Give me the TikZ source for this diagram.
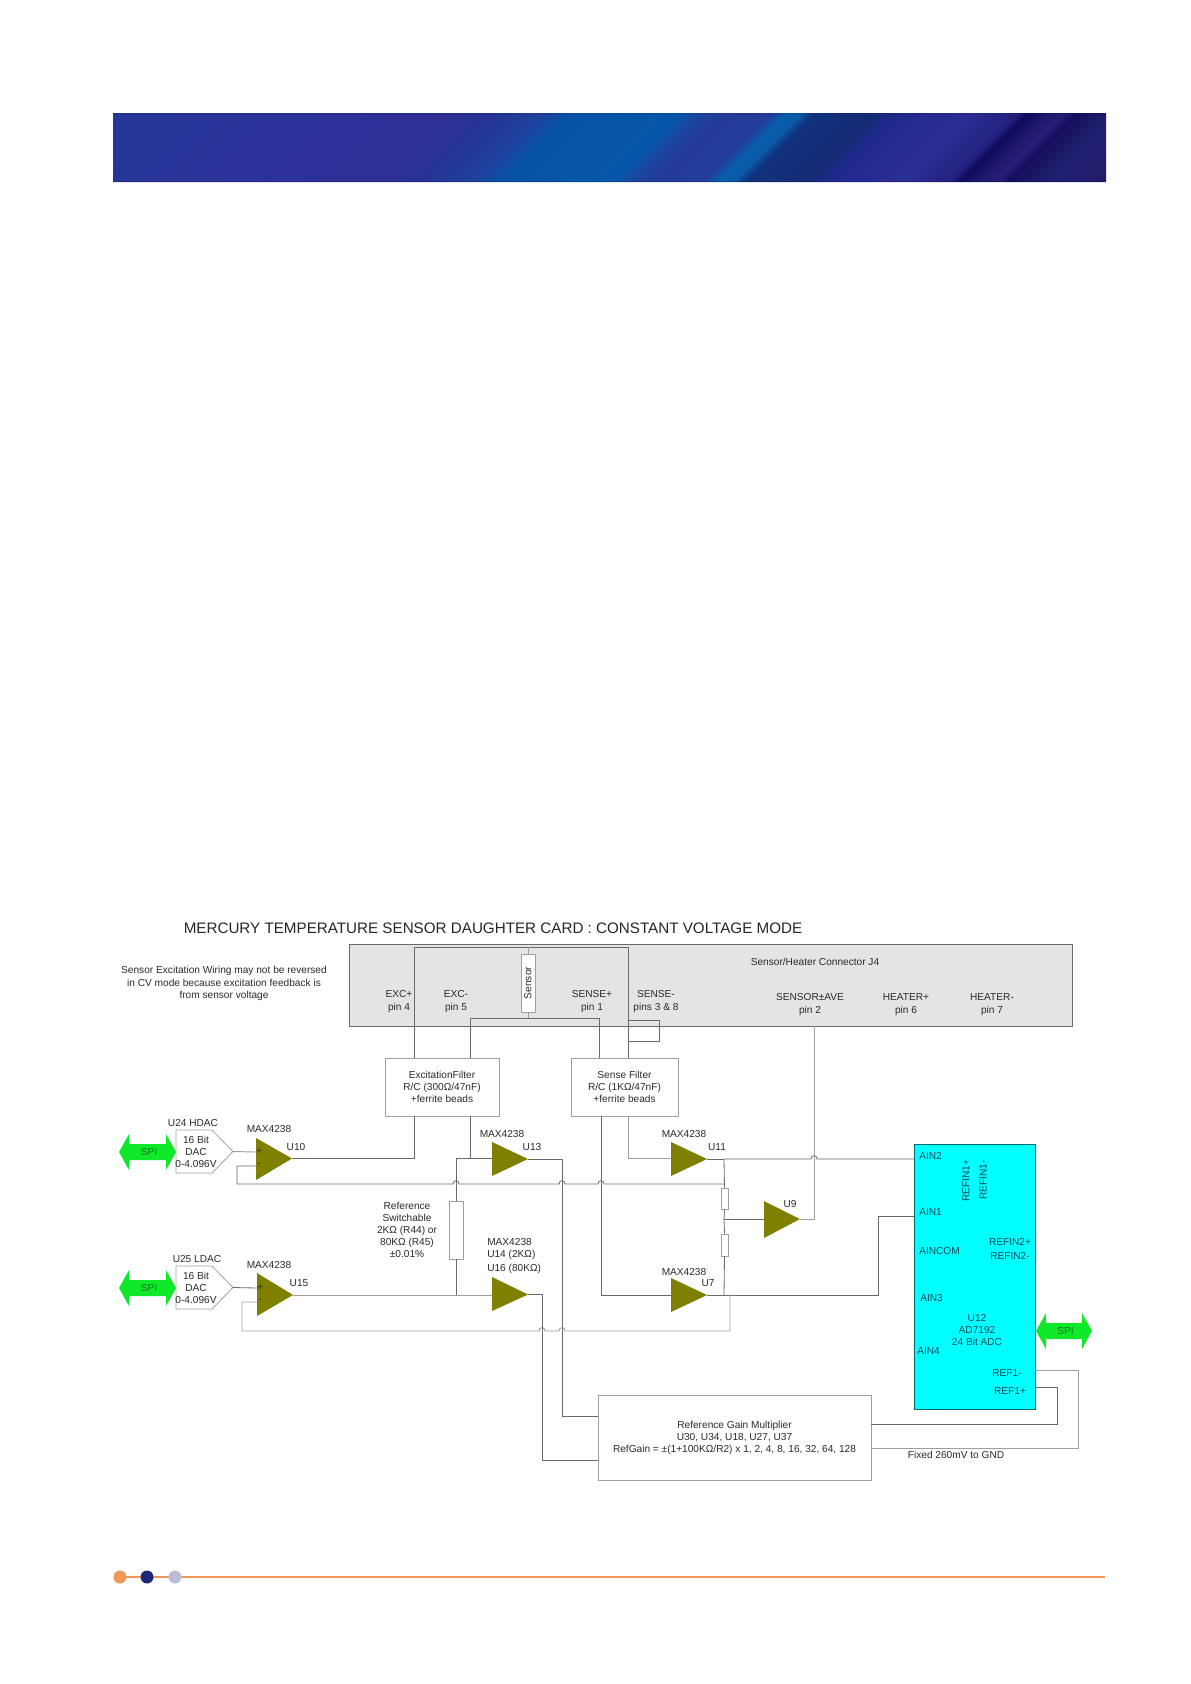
\documentclass[tikz,border=0pt]{standalone}
\usepackage{fontspec}
\setmainfont{Liberation Sans}
\usetikzlibrary{calc}
\definecolor{wiredark}{HTML}{6A6A6A}
\definecolor{wirelight}{HTML}{A0A0A0}
\definecolor{txt}{HTML}{2A2A2A}
\definecolor{conn}{HTML}{E4E4E4}
\definecolor{olive}{HTML}{7F7F00}
\definecolor{cyanbox}{HTML}{00FFFF}
\definecolor{cyantxt}{HTML}{0A4A55}
\definecolor{spigreen}{HTML}{10E82A}
\definecolor{spitxt}{HTML}{0A7A1A}
\definecolor{footor}{HTML}{F0975A}
\definecolor{footnavy}{HTML}{1C2A78}
\definecolor{footlav}{HTML}{BCBCD8}
\pgfdeclarehorizontalshading{banner}{60bp}{rgb(0bp)=(.15,.21,.6);rgb(65bp)=(.15,.21,.6);rgb(215bp)=(.18,.19,.6);rgb(275bp)=(.18,.19,.59);rgb(305bp)=(.15,.2,.58);rgb(343bp)=(.12,.26,.62);rgb(365bp)=(.03,.32,.65);rgb(448bp)=(.02,.34,.67);rgb(459bp)=(.1,.28,.63);rgb(478bp)=(.14,.23,.6);rgb(515bp)=(.14,.24,.61);rgb(526bp)=(.03,.37,.68);rgb(538bp)=(.04,.35,.65);rgb(546bp)=(.07,.2,.5);rgb(590bp)=(.08,.17,.45);rgb(613bp)=(.13,.16,.56);rgb(665bp)=(.17,.18,.58);rgb(699bp)=(.14,.13,.5);rgb(707bp)=(.06,.04,.36);rgb(722bp)=(.12,.1,.42);rgb(733bp)=(.15,.12,.47);rgb(744bp)=(.08,.06,.36);rgb(770bp)=(.13,.12,.44);rgb(860bp)=(.15,.1,.42)}
% box node: style, name, x1, y1, x2, y2, text
\newcommand\bx[7]{\node[#1,minimum width={(#5-#3)*0.75pt},minimum height={(#6-#4)*0.75pt}] (#2) at ({(#3+#5)/2},{(#4+#6)/2}) {#7};}
% op amp: name, xleft, ytop, ybot, xtip, ytip
\newcommand\opamp[6]{\fill[olive] (#2,#3) -- (#2,#4) -- (#5,#6) -- cycle;\coordinate (#1-out) at (#5,#6);}
% hop over a crossing, drawn left to right on a horizontal wire
\newcommand\hop[2]{-- ({#1-3},#2) .. controls ({#1-3},{#2-4.5}) and ({#1+3},{#2-4.5}) .. ({#1+3},#2)}
% SPI double arrow: name, xleft, xright, ycentre
\newcommand\spi[4]{\fill[spigreen] (#2,#4) -- ({#2+10},{#4-18}) -- ({#2+10},{#4-8}) -- ({#3-10},{#4-8}) -- ({#3-10},{#4-18}) -- (#3,#4) -- ({#3-10},{#4+18}) -- ({#3-10},{#4+8}) -- ({#2+10},{#4+8}) -- ({#2+10},{#4+18}) -- cycle;
\node[lbl,text=spitxt] (#1) at ({(#2+#3)/2+1.5},#4) {SPI};}
% DAC pentagon: name, ytop, ybot
\newcommand\dac[3]{\draw[boxline,fill=white] (176,#2) -- (212,#2) -- (233,{(#2+#3)/2}) -- (212,#3) -- (176,#3) -- cycle;
\coordinate (#1-tip) at (233,{(#2+#3)/2});
\node[lbl] (#1) at (196,{(#2+#3)/2}) {16 Bit\\DAC\\0-4.096V};}
\begin{document}
\begin{tikzpicture}[x=0.75pt,y=-0.75pt,
  lbl/.style={font=\fontsize{7.6pt}{9.1pt}\selectfont,text=txt,align=center,inner sep=0pt},
  lbll/.style={lbl,anchor=west,align=left},
  cy/.style={lbl,text=cyantxt},
  cyl/.style={lbll,text=cyantxt},
  wire/.style={draw=wiredark,line width=0.6pt},
  wirel/.style={draw=wirelight,line width=0.7pt},
  boxline/.style={draw=wirelight,line width=0.6pt},
  plainbox/.style={draw=wirelight,line width=0.6pt,fill=white,inner sep=0pt,align=center,font=\fontsize{7.6pt}{9.1pt}\selectfont,text=txt},
  resistor/.style={draw=wirelight,line width=0.6pt,fill=white,inner sep=0pt}]
\useasboundingbox (0,0) rectangle (1190,1684);
\fill[white] (0,0) rectangle (1190,1684);
% banner
\begin{scope}
\clip (113,113) rectangle (1106,182);
\pgftransformcm{1}{0}{1}{1}{\pgfpointxy{13}{182}}
\pgftext[left,bottom]{\pgfuseshading{banner}}
\end{scope}
\fill[black,opacity=0.08] (113,113) rectangle (1106,114.5);
\fill[black,opacity=0.12] (113,180.5) rectangle (1106,182);
% footer
\coordinate (footL) at (120,1577);
\coordinate (footR) at (1105,1577);
\draw[footor,line width=1.5pt] (footL) -- (footR);
\fill[footor] (120,1577) circle[radius=6.5];
\fill[footnavy] (147,1577) circle[radius=6.5];
\fill[footlav] (175,1577) circle[radius=6.5];
% title
\node[lbl,font=\fontsize{11.4pt}{14pt}\selectfont,text=black!85] (title) at (493,928.5) {MERCURY TEMPERATURE SENSOR DAUGHTER CARD : CONSTANT VOLTAGE MODE};
\node[lbl] (note) at (224,983.5) {Sensor Excitation Wiring may not be reversed\\in CV mode because excitation feedback is\\from sensor voltage};
% connector block
\bx{draw=wiredark,line width=0.6pt,fill=conn,inner sep=0pt}{j4}{349}{944}{1072}{1026}{}
\node[lbl] (j4t) at (815,962) {Sensor/Heater Connector J4};
\node[lbl] (pexcp) at (399,1001.5) {EXC+\\pin 4};
\node[lbl] (pexcm) at (456,1001.5) {EXC-\\pin 5};
\node[lbl] (psp) at (592,1001.5) {SENSE+\\pin 1};
\node[lbl] (psm) at (656,1001.5) {SENSE-\\pins 3 \& 8};
\node[lbl] (pave) at (810,1004.5) {SENSOR±AVE\\pin 2};
\node[lbl] (php) at (906,1004.5) {HEATER+\\pin 6};
\node[lbl] (phm) at (992,1004.5) {HEATER-\\pin 7};
% junction coordinates
\coordinate (ja) at (414,1058); \coordinate (jb) at (628,1058);
\coordinate (jc) at (470,1058); \coordinate (jd) at (599,1058);
\coordinate (je) at (414,1116); \coordinate (jf) at (470,1116);
\coordinate (jg) at (628,1116); \coordinate (jh) at (601,1116);
\coordinate (u10p) at (256,1152); \coordinate (u10m) at (256,1166);
\coordinate (u15p) at (257,1288); \coordinate (u15m) at (257,1302);
\coordinate (u13in) at (492,1158.5); \coordinate (u16in) at (492,1295);
\coordinate (u11in) at (671,1158); \coordinate (u7in) at (671,1295);
\coordinate (u9in) at (764,1219);
\coordinate (fbnode) at (724,1184);
\coordinate (n7) at (724,1295);
\coordinate (n9) at (724,1219);
\coordinate (n11) at (724,1159);
\coordinate (n13) at (456,1158.5);
\coordinate (n15) at (456,1295);
\coordinate (avepin) at (814,1026);
% wires in connector area
\draw[wire] (ja) -- (414,947) -- (628,947) -- (jb);
\draw[wire] (jc) -- (470,1018) -- (599,1018) -- (jd);
\draw[wire] (628,1020) -- (659,1020) -- (659,1041) -- (628,1041);
\coordinate (sensT) at (528,947); \coordinate (sensB) at (528,1018);
\bx{resistor}{sens}{521}{954}{535}{1012}{}
\draw[wirel] (sensT) -- (sens.north);
\draw[wirel] (sens.south) -- (sensB);
\node[lbl,rotate=90] (senst) at (528,983) {Sensor};
% filters
\bx{plainbox}{excf}{385}{1058}{499}{1116}{ExcitationFilter\\R/C (300Ω/47nF)\\+ferrite beads}
\bx{plainbox}{senf}{571}{1058}{678}{1116}{Sense Filter\\R/C (1KΩ/47nF)\\+ferrite beads}
% op amps
\opamp{u10}{256}{1138}{1180}{292}{1158.5}
\opamp{u13}{492}{1142}{1176}{528}{1159}
\opamp{u11}{671}{1142}{1176}{707}{1159}
\opamp{u9}{764}{1201}{1238}{800}{1219}
\opamp{u15}{257}{1273}{1316}{293}{1295}
\opamp{u16}{492}{1277}{1311}{528}{1294.5}
\opamp{u7}{671}{1278}{1312}{707}{1295}
% resistors
\bx{resistor}{rref}{449}{1201}{463}{1259}{}
\bx{resistor}{rtop}{721}{1188}{728}{1209}{}
\bx{resistor}{rbot}{721}{1234}{728}{1256}{}
% boxes
\bx{plainbox}{gain}{598}{1395}{871}{1480}{Reference Gain Multiplier\\U30, U34, U18, U27, U37\\RefGain = ±(1+100KΩ/R2) x 1, 2, 4, 8, 16, 32, 64, 128}
\bx{draw=teal!80!black,line width=0.6pt,fill=cyanbox,inner sep=0pt}{adc}{914}{1144}{1035}{1409}{}
\coordinate (ain2) at (914,1159); \coordinate (ain1) at (914,1216);
\coordinate (ref1m) at (1035,1370); \coordinate (ref1p) at (1035,1387);
\coordinate (gain1) at (871,1424); \coordinate (gain2) at (871,1448);
\coordinate (gain3) at (598,1416); \coordinate (gain4) at (598,1460);
% wiring
\draw[wire] (je) -- (414,1158.5) -- (u10-out);
\draw[wire] (jf) -- (470,1158.5);
\draw[wire] (n15) -- (rref.south);
\draw[wire] (rref.north) -- (n13) -- (u13in);
\draw[wire] (u13-out) -- (562,1159) -- (562,1416) -- (gain3);
\draw[wire] (u10m) -- (237,1166) -- (237,1184) \hop{456}{1184} \hop{562}{1184} \hop{601}{1184} -- (fbnode);
\draw[wirel] (jg) -- (628,1158) -- (u11in);
\draw[wire] (u11-out) -- (n11);
\draw[wire] (n11) \hop{814}{1159} -- (ain2);
\draw[wire] (n11) -- (rtop.north);
\draw[wire] (rtop.south) -- (n9) -- (rbot.north);
\draw[wire] (rbot.south) -- (n7);
\draw[wire] (n9) -- (u9in);
\draw[wirel] (u9-out) -- (814,1219) -- (avepin);
\draw[wire] (jh) -- (601,1295) -- (u7in);
\draw[wire] (u7-out) -- (878,1295) -- (878,1216) -- (ain1);
\draw[wirel] (u15m) -- (242,1302) -- (242,1331) \hop{542}{1331} \hop{562}{1331} -- (730,1331) -- (730,1295);
\draw[wirel] (u15-out) -- (u16in);
\draw[wire] (u16-out) -- (542,1294.5) -- (542,1460) -- (gain4);
\draw[wirel] (ref1m) -- (1078,1370) -- (1078,1448) -- (gain2);
\draw[wire] (ref1p) -- (1057,1387) -- (1057,1424) -- (gain1);
% DACs and SPI
\dac{dach}{1130}{1173}
\dac{dacl}{1266}{1309}
\draw[wirel] (dach-tip) -- (u10p);
\draw[wire] (dacl-tip) -- (u15p);
\spi{spia}{119}{176}{1152}
\spi{spib}{119}{176}{1288}
\spi{spic}{1036}{1092}{1331}
% labels
\node[lbl] (l24) at (193,1123) {U24 HDAC};
\node[lbl] (l25) at (197,1259) {U25 LDAC};
\node[lbl] (m10) at (269,1129) {MAX4238};
\node[lbl] (t10) at (296,1147) {U10};
\node[lbl] (pl10) at (259,1152) {+};
\node[lbl] (mi10) at (259,1165) {-};
\node[lbl] (pl15) at (260,1288) {+};
\node[lbl] (mi15) at (260,1301) {-};
\node[lbl] (m13) at (502,1134) {MAX4238};
\node[lbl] (t13) at (532,1147) {U13};
\node[lbl] (m11) at (684,1134) {MAX4238};
\node[lbl] (t11) at (717,1147) {U11};
\node[lbl] (t9) at (790,1204) {U9};
\node[lbl] (m7) at (684,1272) {MAX4238};
\node[lbl] (t7) at (708,1283) {U7};
\node[lbl] (m15) at (269,1265) {MAX4238};
\node[lbl] (t15) at (299,1283) {U15};
\node[lbl] (refsw) at (407,1230) {Reference\\Switchable\\2KΩ (R44) or\\80KΩ (R45)\\±0.01\%};
\node[lbll] (m16) at (487,1242) {MAX4238};
\node[lbll] (t14) at (487,1255) {U14 (2KΩ)};
\node[lbll] (t16) at (487,1269) {U16 (80KΩ)};
\node[lbl] (fixed) at (956,1455) {Fixed 260mV to GND};
% ADC labels
\node[cyl] (a2) at (919,1156) {AIN2};
\node[cy,rotate=90] (rf1p) at (966,1181) {REFIN1+};
\node[cy,rotate=90] (rf1m) at (983,1180) {REFIN1-};
\node[cyl] (a1) at (919,1212) {AIN1};
\node[cyl] (ac) at (919,1251) {AINCOM};
\node[cy] (rf2p) at (1010,1242) {REFIN2+};
\node[cy] (rf2m) at (1010,1256) {REFIN2-};
\node[cyl] (a3) at (920,1298) {AIN3};
\node[cy] (u12) at (977,1330) {U12\\AD7192\\24 Bit ADC};
\node[cyl] (a4) at (917,1351) {AIN4};
\node[cy] (r1m) at (1007,1373) {REF1-};
\node[cy] (r1p) at (1010,1391) {REF1+};
\end{tikzpicture}
\end{document}
